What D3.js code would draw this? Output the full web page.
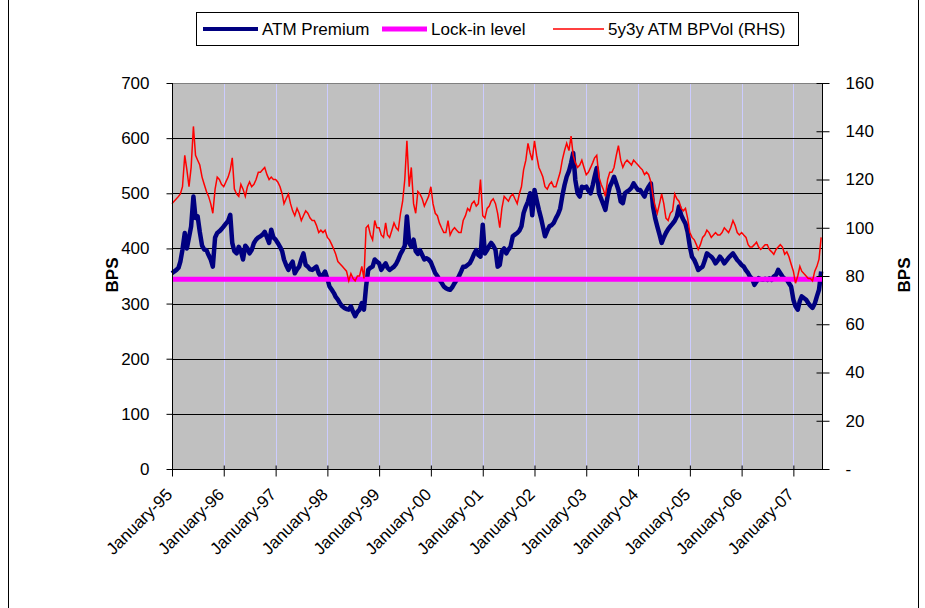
<!DOCTYPE html>
<html>
<head>
<meta charset="utf-8">
<script src="https://cdn.jsdelivr.net/npm/d3@7"></script>
<style>
  body { margin: 0; background: #fff; }
  svg { font-family: "Liberation Sans", Arial, sans-serif; }
</style>
</head>
<body>
<div id="chart"></div>
<script>
// semi-monthly observations (1st and 16th of each month) starting January 1995
var startYear = 1995;

// ATM Premium, bps (left axis)
var atmPremium = [
  355, 358, 361, 365, 376, 398, 428, 400, 420, 440, 494, 455,
  458, 430, 405, 398, 397, 388, 380, 367, 420, 428, 431, 435,
  440, 445, 450, 461, 410, 395, 391, 403, 395, 380, 405, 400,
  391, 397, 410, 416, 420, 422, 425, 430, 420, 410, 434, 420,
  416, 410, 403, 395, 380, 370, 361, 370, 376, 355, 362, 367,
  380, 391, 370, 367, 362, 361, 364, 367, 355, 349, 352, 358,
  345, 331, 325, 319, 312, 307, 300, 295, 292, 290, 289, 295,
  285, 277, 285, 289, 301, 289, 331, 361, 365, 367, 380, 376,
  373, 361, 368, 373, 365, 361, 364, 367, 372, 380, 390, 397,
  405, 458, 410, 403, 416, 395, 390, 397, 388, 380, 382, 380,
  375, 365, 355, 350, 343, 338, 331, 328, 326, 325, 330, 337,
  343, 349, 358, 367, 367, 370, 373, 380, 390, 397, 388, 385,
  443, 391, 397, 405, 410, 405, 397, 367, 370, 395, 400, 391,
  398, 403, 422, 425, 428, 432, 440, 464, 476, 485, 500, 460,
  506, 488, 470, 455, 440, 422, 432, 440, 442, 446, 455, 462,
  472, 495, 515, 530, 540, 555, 573, 524, 500, 494, 512, 510,
  512, 505, 500, 515, 530, 546, 500, 490, 480, 470, 495, 512,
  520, 530, 518, 506, 485, 482, 500, 503, 506, 510, 518, 512,
  506, 506, 500, 494, 505, 512, 518, 476, 455, 440, 425, 410,
  420, 428, 435, 440, 445, 450, 458, 476, 460, 452, 445, 430,
  403, 385, 379, 370, 361, 364, 367, 378, 391, 388, 385, 380,
  373, 378, 385, 380, 373, 378, 383, 387, 391, 385, 379, 375,
  370, 367, 360, 355, 349, 345, 334, 340, 346, 344, 343, 345,
  343, 346, 343, 349, 352, 361, 355, 349, 345, 343, 337, 331,
  307, 295, 289, 305, 313, 310, 307, 301, 296, 292, 300, 313,
  325, 358
];

// 5y3y ATM BP vol (right axis)
var bpVol = [
  110, 111, 112, 113, 114, 117, 130, 124, 117, 125, 142, 130,
  128, 126, 121, 118, 115, 113, 110, 106, 116, 121, 120, 118,
  117, 119, 121, 124, 129, 116, 114, 113, 118, 116, 113, 117,
  119, 117, 118, 120, 123, 123, 124, 125, 122, 120, 121, 120,
  120, 119, 117, 114, 110, 112, 114, 110, 107, 105, 108, 106,
  103, 105, 107, 106, 104, 103, 103, 101, 98, 99, 98, 99,
  96, 95, 93, 91, 89, 86, 85, 84, 83, 82, 78, 81,
  79, 78, 80, 80, 84, 79, 100, 101, 97, 95, 103, 100,
  100, 97, 96, 102, 97, 96, 99, 102, 100, 99, 106, 111,
  120, 136, 117, 125, 110, 106, 115, 114, 112, 109, 111, 113,
  117, 110, 106, 105, 102, 100, 98, 98, 103, 97, 99, 100,
  99, 98, 98, 103, 105, 108, 107, 110, 111, 109, 110, 120,
  105, 104, 108, 109, 111, 112, 110, 106, 100, 108, 113, 112,
  111, 113, 114, 112, 110, 114, 117, 124, 128, 135, 131, 128,
  136, 130, 125, 123, 121, 117, 116, 118, 119, 117, 117, 120,
  123, 128, 132, 135, 132, 138, 130, 127, 125, 126, 128, 125,
  122, 123, 125, 127, 129, 130, 121, 118, 116, 113, 120, 123,
  123, 125, 130, 134, 128, 125, 127, 128, 127, 126, 128, 127,
  126, 125, 124, 122, 123, 122, 119, 113, 109, 106, 110, 114,
  110, 104, 103, 106, 107, 114, 112, 111, 108, 107, 108, 104,
  98, 96, 95, 93, 91, 93, 96, 97, 99, 98, 96, 97,
  98, 97, 97, 98, 100, 99, 98, 100, 103, 101, 98, 97,
  98, 97, 96, 93, 92, 92, 93, 94, 92, 91, 92, 93,
  93, 91, 90, 89, 91, 92, 93, 92, 89, 90, 88, 85,
  82, 77, 80, 84, 82, 81, 80, 79, 79, 78, 82, 84,
  87, 96
];

var lockInLevel = 344;

var leftTicks = [0, 100, 200, 300, 400, 500, 600, 700];
var rightTicks = [0, 20, 40, 60, 80, 100, 120, 140, 160];
var tickYears = d3.range(1995, 2008);

var legendItems = [
  { label: "ATM Premium", color: "#000080", width: 4 },
  { label: "Lock-in level", color: "#ff00ff", width: 5 },
  { label: "5y3y ATM BPVol (RHS)", color: "#ff0000", width: 1.5 }
];

function drawChart() {
    var width = 925, height = 608;
    var plot = { left: 172, right: 822, top: 83, bottom: 469 };

    var dates = atmPremium.map(function(d, i) {
        return new Date(startYear, Math.floor(i / 2), i % 2 ? 16 : 1);
    });

    var svg = d3.select("#chart").append("svg")
        .attr("width", width)
        .attr("height", height);

    // outer frame
    svg.append("rect")
        .attr("x", 8.5).attr("y", -5)
        .attr("width", 910).attr("height", height + 10)
        .attr("fill", "none").attr("stroke", "#000");

    var x = d3.scaleTime()
        .domain([new Date(1995, 0, 1), new Date(2007, 6, 22)])
        .range([plot.left, plot.right]);
    var yL = d3.scaleLinear().domain([0, 700]).range([plot.bottom, plot.top]);
    var yR = d3.scaleLinear().domain([0, 160]).range([plot.bottom, plot.top]);

    // plot background
    svg.append("rect")
        .attr("x", plot.left).attr("y", plot.top)
        .attr("width", plot.right - plot.left)
        .attr("height", plot.bottom - plot.top)
        .attr("fill", "#c0c0c0");

    // vertical grid at each January
    svg.append("g").selectAll("line")
        .data(tickYears.slice(1))
        .enter().append("line")
        .attr("x1", function(d) { return Math.round(x(new Date(d, 0, 1))) + 0.5; })
        .attr("x2", function(d) { return Math.round(x(new Date(d, 0, 1))) + 0.5; })
        .attr("y1", plot.top).attr("y2", plot.bottom)
        .attr("stroke", "#ccccff");

    // horizontal grid on left axis
    svg.append("g").selectAll("line")
        .data(leftTicks.slice(1))
        .enter().append("line")
        .attr("x1", plot.left).attr("x2", plot.right)
        .attr("y1", function(d) { return Math.round(yL(d)) + 0.5; })
        .attr("y2", function(d) { return Math.round(yL(d)) + 0.5; })
        .attr("stroke", function(d) { return d === 700 ? "#808080" : "#000"; });

    // series
    var atmLine = d3.line()
        .x(function(d, i) { return x(dates[i]); })
        .y(function(d) { return yL(d); });
    var volLine = d3.line()
        .x(function(d, i) { return x(dates[i]); })
        .y(function(d) { return yR(d); });

    svg.append("path")
        .datum(atmPremium)
        .attr("d", atmLine)
        .attr("fill", "none")
        .attr("stroke", "#000080")
        .attr("stroke-width", 4.5)
        .attr("stroke-linejoin", "round");

    svg.append("line")
        .attr("x1", plot.left).attr("x2", plot.right)
        .attr("y1", yL(lockInLevel)).attr("y2", yL(lockInLevel))
        .attr("stroke", "#ff00ff")
        .attr("stroke-width", 5);

    svg.append("path")
        .datum(bpVol)
        .attr("d", volLine)
        .attr("fill", "none")
        .attr("stroke", "#ff0000")
        .attr("stroke-width", 1.5);

    // left axis
    var leftAxis = d3.axisLeft(yL).tickValues(leftTicks).tickSize(6).tickPadding(17);
    var gL = svg.append("g")
        .attr("transform", "translate(" + (plot.left + 0.5) + ",0)")
        .call(leftAxis);
    gL.select(".domain").attr("d", "M0," + plot.top + "V" + plot.bottom);

    // right axis, ticks cross the line
    var rightAxis = d3.axisRight(yR).tickValues(rightTicks)
        .tickSize(7).tickPadding(16)
        .tickFormat(function(d) { return d === 0 ? "-" : d; });
    var gR = svg.append("g")
        .attr("transform", "translate(" + (plot.right + 0.5) + ",0)")
        .call(rightAxis);
    gR.select(".domain").attr("d", "M0," + plot.top + "V" + plot.bottom);
    gR.selectAll(".tick line").attr("x1", -6);

    // bottom axis
    var bottomAxis = d3.axisBottom(x)
        .tickValues(tickYears.map(function(d) { return new Date(d, 0, 1); }))
        .tickSize(7)
        .tickFormat(d3.timeFormat("%B-%y"));
    var gB = svg.append("g")
        .attr("transform", "translate(0," + (plot.bottom + 0.5) + ")")
        .call(bottomAxis);
    gB.select(".domain").attr("d", "M" + plot.left + ",0H" + plot.right);
    gB.selectAll(".tick line").attr("y1", -4);
    gB.selectAll(".tick text")
        .attr("text-anchor", "end")
        .attr("dy", null)
        .attr("y", 0)
        .attr("transform", "translate(1,26) rotate(-45)");

    svg.selectAll(".tick text")
        .attr("font-family", "'Liberation Sans', Arial, sans-serif")
        .attr("font-size", 17)
        .attr("fill", "#000");
    svg.selectAll(".domain, .tick line").attr("stroke", "#000");

    // axis titles
    svg.append("text")
        .attr("transform", "translate(118,275) rotate(-90)")
        .attr("text-anchor", "middle")
        .attr("font-size", 17).attr("font-weight", "bold")
        .text("BPS");
    svg.append("text")
        .attr("transform", "translate(910,275) rotate(-90)")
        .attr("text-anchor", "middle")
        .attr("font-size", 17).attr("font-weight", "bold")
        .text("BPS");

    // legend
    var legend = svg.append("g");
    legend.append("rect")
        .attr("x", 196.5).attr("y", 12.5)
        .attr("width", 602).attr("height", 33)
        .attr("fill", "#fff").attr("stroke", "#000");
    var itemX = [203, 382, 553];
    var itemLen = [55, 45, 51];
    legendItems.forEach(function(item, i) {
        legend.append("line")
            .attr("x1", itemX[i]).attr("x2", itemX[i] + itemLen[i])
            .attr("y1", 29).attr("y2", 29)
            .attr("stroke", item.color)
            .attr("stroke-width", item.width);
        legend.append("text")
            .attr("x", itemX[i] + itemLen[i] + 4)
            .attr("y", 35)
            .attr("font-size", 17)
            .text(item.label);
    });
}

drawChart();
</script>
</body>
</html>
